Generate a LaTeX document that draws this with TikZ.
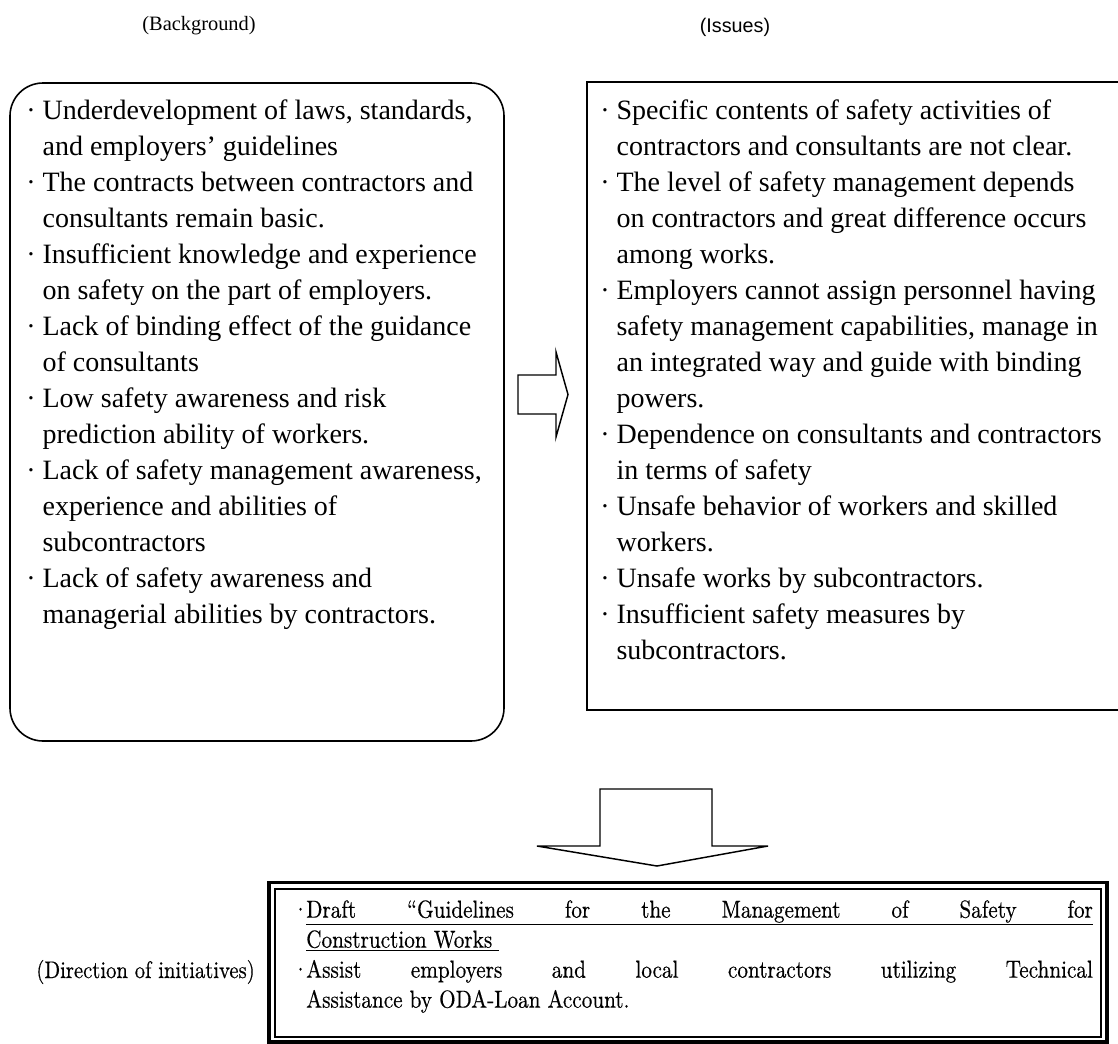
\documentclass[tikz,border=0pt]{standalone}
\usepackage{fontspec}
\newfontfamily\tnr{Liberation Serif}
\newfontfamily\gothic{Liberation Sans}
% condensed, slightly darker roman for the lower panel
\newfontfamily\narrowrm[FakeStretch=0.86,FakeBold=0.4]{lmroman10-regular.otf}
\begin{document}
\begin{tikzpicture}[x=0.75pt,y=-0.75pt,
  boxline/.style={draw=black,line width=1.2pt},
  bodytext/.style={anchor=north west,inner sep=0pt,align=left,
    font=\tnr\fontsize{21}{27}\selectfont},
  headtext/.style={inner sep=0pt},
  blockarrow/.style={draw=black,line width=1.1pt,fill=white,line join=miter}]
\useasboundingbox (0,0) rectangle (1118,1043);

% headings
\node[headtext,font=\tnr\fontsize{15.3}{18}\selectfont] (bghead) at (199,26) {(Background)};
\node[headtext,font=\gothic\fontsize{14.8}{17}\selectfont] (ishead) at (735,27) {(Issues)};

% background box
\draw[boxline,rounded corners=24.75pt] (10,83) rectangle (504,741);
\node[bodytext] (bgtext) at (26,99.5) {%
· Underdevelopment of laws, standards,\\
\phantom{· }and employers’ guidelines\\
· The contracts between contractors and\\
\phantom{· }consultants remain basic.\\
· Insufficient knowledge and experience\\
\phantom{· }on safety on the part of employers.\\
· Lack of binding effect of the guidance\\
\phantom{· }of consultants\\
· Low safety awareness and risk\\
\phantom{· }prediction ability of workers.\\
· Lack of safety management awareness,\\
\phantom{· }experience and abilities of\\
\phantom{· }subcontractors\\
· Lack of safety awareness and\\
\phantom{· }managerial abilities by contractors.};

% issues box (its right side runs past the page edge)
\draw[boxline] (1125,82) -- (587,82) -- (587,710) -- (1125,710);
\node[bodytext] (istext) at (600,100) {%
· Specific contents of safety activities of\\
\phantom{· }contractors and consultants are not clear.\\
· The level of safety management depends\\
\phantom{· }on contractors and great difference occurs\\
\phantom{· }among works.\\
· Employers cannot assign personnel having\\
\phantom{· }safety management capabilities, manage in\\
\phantom{· }an integrated way and guide with binding\\
\phantom{· }powers.\\
· Dependence on consultants and contractors\\
\phantom{· }in terms of safety\\
· Unsafe behavior of workers and skilled\\
\phantom{· }workers.\\
· Unsafe works by subcontractors.\\
· Insufficient safety measures by\\
\phantom{· }subcontractors.};

% block arrow to the right
\draw[blockarrow] (518,375) -- (556,375) -- (556,352) -- (568,394.5)
  -- (556,437) -- (556,414) -- (518,414) -- cycle;

% block arrow downwards
\draw[blockarrow] (600,789) -- (712,789) -- (712,846) -- (768,846)
  -- (657,866) -- (537,846) -- (600,846) -- cycle;

% direction box with double frame
\draw[draw=black,line width=2.5pt] (269,882.5) rectangle (1107,1042);
\draw[draw=black,line width=1.1pt] (275,889) rectangle (1101,1037);
\node[anchor=base east,inner sep=0pt,font=\narrowrm\fontsize{18}{21}\selectfont]
  (dirhead) at (255,978) {(Direction of initiatives)};
\node[anchor=north west,inner sep=0pt,align=left,
  font=\narrowrm\fontsize{18.5}{22.5}\selectfont] (dirtext) at (292,900) {%
\makebox[10.5pt][l]{·}\underline{\makebox[590pt][s]{Draft “Guidelines for the Management of Safety for}}\\
\hspace*{10.5pt}\underline{Construction Works\ }\\
\makebox[10.5pt][l]{·}\makebox[590pt][s]{Assist employers and local contractors utilizing Technical}\\
\hspace*{10.5pt}Assistance by ODA-Loan Account.};
\end{tikzpicture}
\end{document}
